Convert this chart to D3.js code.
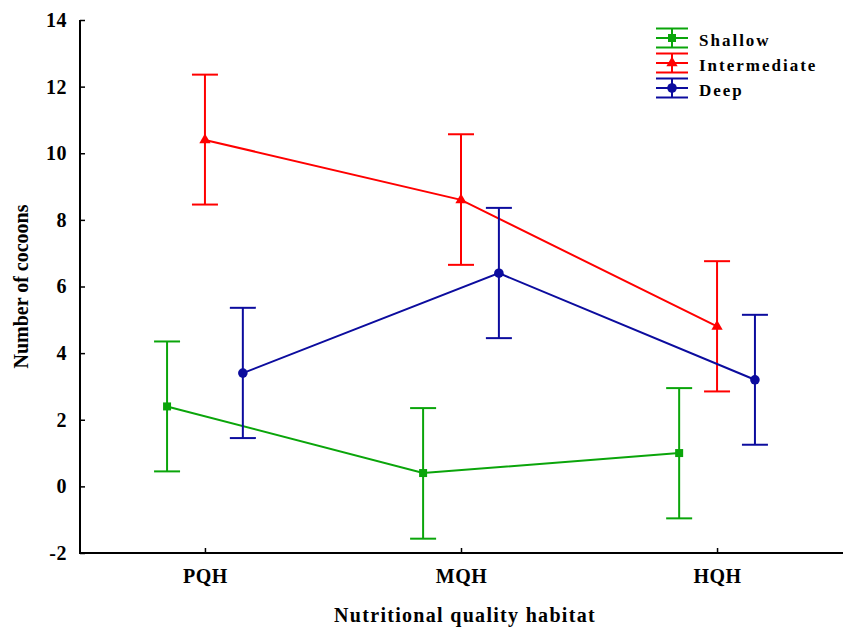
<!DOCTYPE html>
<html>
<head>
    <meta charset="utf-8">
    <style type="text/css">
        body {
            margin: 0;
            background: white;
        }
        text {
            font-family: "Liberation Serif", "Times New Roman", serif;
            font-weight: bold;
            fill: black;
        }
        .tick-label {
            font-size: 20px;
            letter-spacing: 0.5px;
        }
        .axis-title {
            font-size: 20px;
        }
        .legend {
            font-size: 17px;
            letter-spacing: 2px;
        }
    </style>
    <script src="https://d3js.org/d3.v7.min.js"></script>
</head>
<body>
    <svg id="chart" width="843" height="630"></svg>
    <script>
        // habitat categories and tick labels
        var categories = ["PQH", "MQH", "HQH"];
        var yTicks = [-2, 0, 2, 4, 6, 8, 10, 12, 14];

        // series names
        var seriesNames = ["Shallow", "Intermediate", "Deep"];

        // means
        var shallowMean = [2.4, 0.4, 1.0];
        var intermediateMean = [10.4, 8.6, 4.8];
        var deepMean = [3.4, 6.4, 3.2];

        // error bars (lower / upper)
        var shallowLow = [0.45, -1.57, -0.96];
        var shallowHigh = [4.35, 2.35, 2.95];
        var intermediateLow = [8.46, 6.65, 2.85];
        var intermediateHigh = [12.36, 10.57, 6.76];
        var deepLow = [1.45, 4.45, 1.25];
        var deepHigh = [5.36, 8.36, 5.15];

        var colors = ["#0aa50a", "#ff0000", "#0c0c9e"];
        var offsets = [-0.148, 0, 0.148];

        var series = [
            { name: seriesNames[0], mean: shallowMean, low: shallowLow, high: shallowHigh, symbol: d3.symbolSquare, size: 64 },
            { name: seriesNames[1], mean: intermediateMean, low: intermediateLow, high: intermediateHigh, symbol: d3.symbolTriangle, size: 55 },
            { name: seriesNames[2], mean: deepMean, low: deepLow, high: deepHigh, symbol: d3.symbolCircle, size: 72 }
        ];

        var svg = d3.select("#chart");
        var plotLeft = 80, plotRight = 842, plotTop = 20, plotBottom = 553;

        var x = d3.scalePoint().domain(categories).range([plotLeft, plotRight]).padding(0.488);
        var y = d3.scaleLinear().domain([-2, 14]).range([plotBottom, plotTop]);
        var step = x.step();
        var capHalf = 13;

        function px(i, s) {
            return x(categories[i]) + offsets[s] * step;
        }

        // axes
        var yAxis = d3.axisLeft(y).tickValues(yTicks).tickFormat(function (d) { return String(d); })
            .tickSize(-5).tickPadding(13);
        var gy = svg.append("g").attr("transform", "translate(" + plotLeft + ",0)").call(yAxis);
        var xAxis = d3.axisBottom(x).tickSize(-5).tickPadding(16);
        var gx = svg.append("g").attr("transform", "translate(0," + plotBottom + ")").call(xAxis);

        [gy, gx].forEach(function (g) {
            g.attr("font-size", null).attr("font-family", null);
            g.select(".domain").remove();
            g.selectAll(".tick line").attr("stroke", "black").attr("stroke-width", 1.5);
            g.selectAll(".tick text").attr("class", "tick-label");
        });
        gx.selectAll(".tick text").attr("dy", "0.71em");

        svg.append("line").attr("x1", plotLeft).attr("x2", plotLeft).attr("y1", plotTop).attr("y2", plotBottom + 1)
            .attr("stroke", "black").attr("stroke-width", 2);
        svg.append("line").attr("x1", plotLeft - 1).attr("x2", 843).attr("y1", plotBottom).attr("y2", plotBottom)
            .attr("stroke", "black").attr("stroke-width", 2);

        // axis titles
        svg.append("text").attr("class", "axis-title")
            .attr("transform", "translate(28," + ((plotTop + plotBottom) / 2) + ") rotate(-90)")
            .attr("text-anchor", "middle")
            .text("Number of cocoons");
        svg.append("text").attr("class", "axis-title")
            .attr("x", 465).attr("y", 622)
            .attr("text-anchor", "middle")
            .attr("letter-spacing", "1.3px")
            .text("Nutritional quality habitat");

        // series
        series.forEach(function (s, si) {
            var col = colors[si];
            var g = svg.append("g");

            var line = d3.line()
                .x(function (d, i) { return px(i, si); })
                .y(function (d) { return y(d); });
            g.append("path").datum(s.mean).attr("fill", "none").attr("stroke", col).attr("stroke-width", 2).attr("d", line);

            s.mean.forEach(function (m, i) {
                var cx = px(i, si);
                g.append("line").attr("x1", cx).attr("x2", cx).attr("y1", y(s.low[i])).attr("y2", y(s.high[i]))
                    .attr("stroke", col).attr("stroke-width", 2);
                [s.low[i], s.high[i]].forEach(function (v) {
                    g.append("line").attr("x1", cx - capHalf).attr("x2", cx + capHalf).attr("y1", y(v)).attr("y2", y(v))
                        .attr("stroke", col).attr("stroke-width", 2);
                });
                g.append("path").attr("d", d3.symbol().type(s.symbol).size(s.size)())
                    .attr("transform", "translate(" + cx + "," + y(m) + ")")
                    .attr("fill", col);
            });
        });

        // legend
        var legend = svg.append("g").attr("transform", "translate(672,38)");
        series.forEach(function (s, si) {
            var col = colors[si];
            var row = legend.append("g").attr("transform", "translate(0," + (si * 25) + ")");
            row.append("line").attr("x1", 0).attr("x2", 0).attr("y1", -9.5).attr("y2", 9.5).attr("stroke", col).attr("stroke-width", 2);
            [-9.5, 0, 9.5].forEach(function (dy) {
                row.append("line").attr("x1", -16).attr("x2", 16).attr("y1", dy).attr("y2", dy).attr("stroke", col).attr("stroke-width", 2);
            });
            row.append("path").attr("d", d3.symbol().type(s.symbol).size(s.size)()).attr("fill", col);
            row.append("text").attr("class", "legend").attr("x", 27).attr("y", 2).attr("dy", "0.35em").text(s.name);
        });
    </script>
</body>
</html>
